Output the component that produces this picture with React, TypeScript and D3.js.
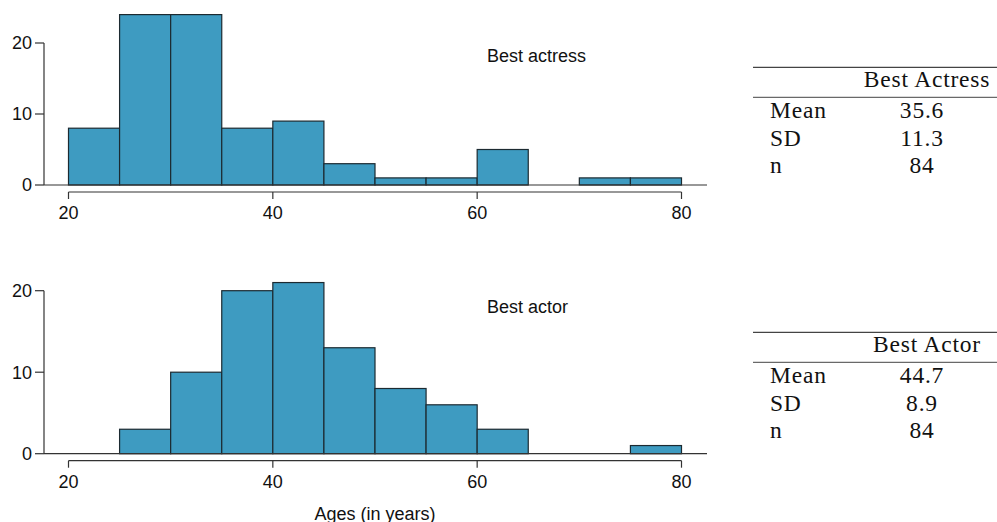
import React from "react";
import * as d3 from "d3";

const binStarts = [20, 25, 30, 35, 40, 45, 50, 55, 60, 65, 70, 75];
const binWidth = 5;
const actressCounts = [8, 24, 24, 8, 9, 3, 1, 1, 5, 0, 1, 1];
const actorCounts = [0, 3, 10, 20, 21, 13, 8, 6, 3, 0, 0, 1];
const xTicks = [20, 40, 60, 80];
const yTicks = [0, 10, 20];
const panelTitles = ["Best actress", "Best actor"];
const axisTitle = "Ages (in years)";
const tableHeaders = ["Best Actress", "Best Actor"];
const statLabels = ["Mean", "SD", "n"];
const actressStats = ["35.6", "11.3", "84"];
const actorStats = ["44.7", "8.9", "84"];

const W = 997;
const H = 522;
const SANS = "'Liberation Sans', Arial, Helvetica, sans-serif";
const SERIF = "'Liberation Serif', 'Times New Roman', serif";
const FILL = "#3e9bc1";
const STROKE = "#1c2a31";

const x = d3.scaleLinear().domain([20, 80]).range([68.5, 681.5]);

function Panel({ counts, y0, y20, title, titleY }: { counts: number[]; y0: number; y20: number; title: string; titleY: number }) {
  const y = d3.scaleLinear().domain([0, 20]).range([y0, y20]);
  const axisY = y0 + 7;
  return (
    <g>
      {binStarts.map((b, i) =>
        counts[i] > 0 ? (
          <rect
            key={i}
            x={x(b)}
            y={y(counts[i])}
            width={x(b + binWidth) - x(b)}
            height={y(0) - y(counts[i])}
            fill={FILL}
            stroke={STROKE}
            strokeWidth={1.2}
          />
        ) : null
      )}
      <line x1={44} x2={707} y1={y(0)} y2={y(0)} stroke="#333" strokeWidth={1.2} />
      <line x1={44} x2={44} y1={y(0)} y2={y(20)} stroke="#333" strokeWidth={1.2} />
      {yTicks.map((t) => (
        <g key={t}>
          <line x1={35} x2={44} y1={y(t)} y2={y(t)} stroke="#333" strokeWidth={1.2} />
          <text x={32} y={y(t)} dy="0.36em" textAnchor="end" fontFamily={SANS} fontSize={18} fill="#111">
            {t}
          </text>
        </g>
      ))}
      <line x1={x(20)} x2={x(80)} y1={axisY} y2={axisY} stroke="#333" strokeWidth={1.2} />
      {xTicks.map((t) => (
        <g key={t}>
          <line x1={x(t)} x2={x(t)} y1={axisY} y2={axisY + 7} stroke="#333" strokeWidth={1.2} />
          <text x={x(t)} y={axisY + 27} textAnchor="middle" fontFamily={SANS} fontSize={18} fill="#111">
            {t}
          </text>
        </g>
      ))}
      <text x={487} y={titleY} fontFamily={SANS} fontSize={18} fill="#111">
        {title}
      </text>
    </g>
  );
}

function StatTable({ header, values, topY }: { header: string; values: string[]; topY: number }) {
  const headerY = topY + 19.5;
  const midRule = topY + 30;
  const rowY = (i: number) => topY + 51 + i * 27.5;
  return (
    <g fontFamily={SERIF} fontSize={23.5} fill="#111">
      <line x1={753} x2={W} y1={topY} y2={topY} stroke="#444" strokeWidth={1.3} />
      <text x={927} y={headerY} textAnchor="middle" letterSpacing={0.8}>
        {header}
      </text>
      <line x1={753} x2={W} y1={midRule} y2={midRule} stroke="#444" strokeWidth={1} />
      {statLabels.map((s, i) => (
        <g key={s}>
          <text x={770} y={rowY(i)} letterSpacing={0.8}>
            {s}
          </text>
          <text x={922} y={rowY(i)} textAnchor="middle" letterSpacing={0.8}>
            {values[i]}
          </text>
        </g>
      ))}
    </g>
  );
}

export default function App() {
  return (
    <svg width={W} height={H} style={{ position: "absolute", left: 0, top: 0, background: "#fff" }}>
      <Panel counts={actressCounts} y0={185} y20={43} title={panelTitles[0]} titleY={62} />
      <Panel counts={actorCounts} y0={453.7} y20={290.7} title={panelTitles[1]} titleY={312.5} />
      <text x={375} y={519.5} textAnchor="middle" fontFamily={SANS} fontSize={18} fill="#111">
        {axisTitle}
      </text>
      <StatTable header={tableHeaders[0]} values={actressStats} topY={67.3} />
      <StatTable header={tableHeaders[1]} values={actorStats} topY={332.3} />
    </svg>
  );
}
